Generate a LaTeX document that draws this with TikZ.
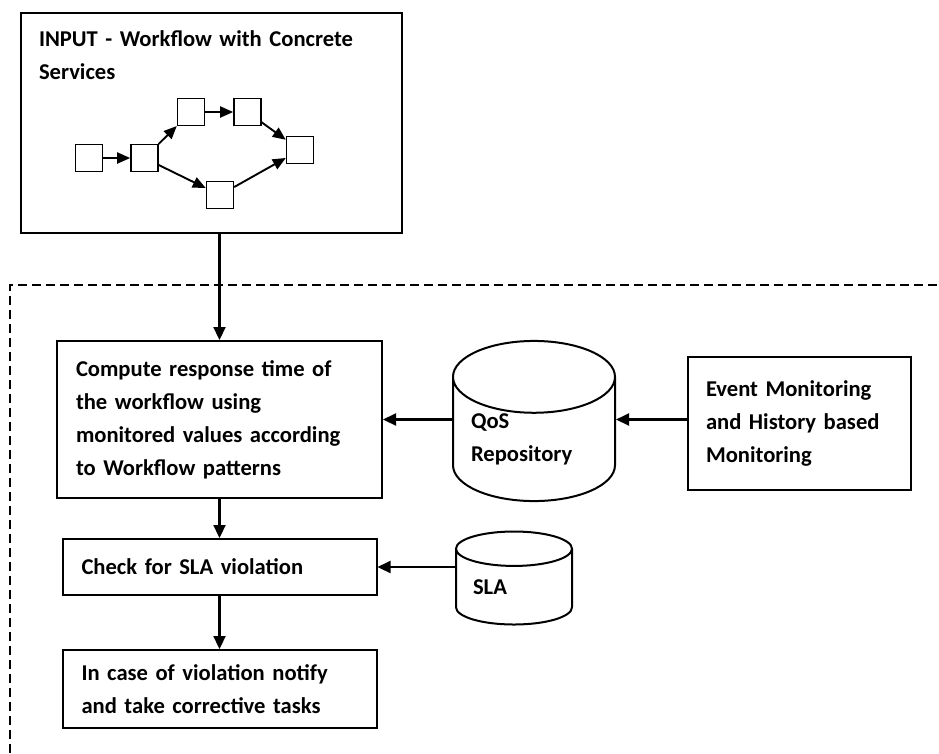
\documentclass[tikz,border=0pt]{standalone}
\usepackage{fontspec}
\setmainfont{Carlito}
\usetikzlibrary{positioning,shapes.geometric,arrows.meta}

\begin{document}
\begin{tikzpicture}[x=1pt, y=-1pt,
		box/.style={draw, line width=2pt, font=\fontsize{22.6}{33}\selectfont\bfseries, align=left, inner sep=0pt},
		task/.style={draw, line width=1.4pt, minimum size=27pt, inner sep=0pt},
		db/.style={cylinder, shape border rotate=90, draw, line width=2pt, font=\fontsize{22.6}{33}\selectfont\bfseries, align=left, anchor=shape center, inner sep=0pt},
		flow/.style={-{Triangle[length=13pt,width=12pt]}, line width=2.2pt},
		step flow/.style={-{Triangle[length=13pt,width=11pt]}, line width=1.9pt},
		bound/.style={dash pattern=on 9pt off 5pt, line width=1.6pt}]
	\useasboundingbox (0,0) rectangle (939,753);

	\node[box, minimum width=381pt, minimum height=220pt] (input) at (211.5,123) {};
	\node[box, anchor=north west, text width=340pt, draw=none] (title) at (38,30) {INPUT - Workflow with Concrete\\Services};

	\node[task] (w1) at (89,158) {};
	\node[task] (w2) [right=27pt of w1] {};
	\node[task] (w3) at (191,112) {};
	\node[task] (w4) [right=28pt of w3] {};
	\node[task] (w5) at (300,150) {};
	\node[task] (w6) at (220,195) {};

	\draw[step flow] (w1) -- (w2);
	\draw[step flow] (w2) -- (w3);
	\draw[step flow] (w2) -- (w6);
	\draw[step flow] (w3) -- (w4);
	\draw[step flow] (w4) -- (w5);
	\draw[step flow] (w6) -- (w5);

	\coordinate (bl) at (10,753);
	\coordinate (tl) at (10,285);
	\coordinate (tr) at (939,285);
	\draw[bound] (bl) -- (tl) -- (tr);

	\node[box, text width=287pt, inner xsep=19pt, minimum height=157pt] (compute) at (219.5,419.5) {Compute response time of\\the workflow using\\monitored values according\\to Workflow patterns};
	\node[box, text width=276pt, inner xsep=19pt, minimum height=56pt] (check) at (219.5,567) {Check for SLA violation};
	\node[box, text width=276pt, inner xsep=19pt, minimum height=78pt] (violation) at (219.5,689) {In case of violation notify\\and take corrective tasks};

	\node[db, text width=126pt, minimum width=162pt, minimum height=152pt, aspect=0.57] (qos) at (534,421) {QoS\\Repository};
	\node[db, text width=82pt, minimum width=116pt, minimum height=93pt, aspect=0.42] (sla) at (514,578) {SLA};
	\node[box, text width=187pt, inner xsep=18pt, minimum height=133pt] (event) at (799.5,423.5) {Event Monitoring\\and History based\\Monitoring};

	\draw[flow] (input.south -| compute.north) -- (compute.north);
	\draw[flow] (compute) -- (check);
	\draw[flow] (check) -- (violation);
	\draw[flow] (event.west |- compute.east) -- (event.west |- compute.east -| qos.east);
	\draw[flow] (qos.west |- compute.east) -- (compute.east);
	\draw[flow] (sla.west |- check.east) -- (check.east);
\end{tikzpicture}
\end{document}
